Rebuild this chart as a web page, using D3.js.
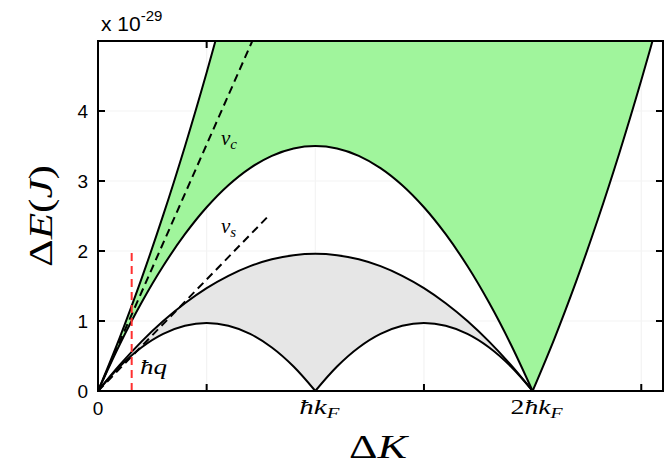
<!DOCTYPE html>
<html>
<head>
<meta charset="utf-8">
<script src="https://cdn.jsdelivr.net/npm/d3@7"></script>
<style>
  body { margin: 0; background: #fff; }
</style>
</head>
<body>
<svg id="chart" width="666" height="464"></svg>
<script>
// momentum in units of hbar*k_F, energy in units of 1e-29 J

// upper edge of the particle-hole (charge) continuum, left branch
var kUpper = [0, 0.1, 0.2, 0.3, 0.4, 0.5, 0.6];
var eUpper = [0, 0.764, 1.602, 2.512, 3.494, 4.55, 5.678];

// lower edge of the charge continuum (0 .. 2 k_F) and upper edge of the spin continuum
var kBand = [0, 0.1, 0.2, 0.3, 0.4, 0.5, 0.6, 0.7, 0.8, 0.9, 1.0,
             1.1, 1.2, 1.3, 1.4, 1.5, 1.6, 1.7, 1.8, 1.9, 2.0];
var eChargeLow = [0, 0.665, 1.26, 1.785, 2.24, 2.625, 2.94, 3.185, 3.36, 3.465, 3.5,
                  3.465, 3.36, 3.185, 2.94, 2.625, 2.24, 1.785, 1.26, 0.665, 0];
var eSpinUp = [0, 0.372, 0.706, 1.0, 1.254, 1.47, 1.646, 1.784, 1.882, 1.94, 1.96,
               1.94, 1.882, 1.784, 1.646, 1.47, 1.254, 1.0, 0.706, 0.372, 0];

// lower edge of the spin continuum, two arcs
var kArcA = [0, 0.1, 0.2, 0.3, 0.4, 0.5, 0.6, 0.7, 0.8, 0.9, 1.0];
var kArcB = [1.0, 1.1, 1.2, 1.3, 1.4, 1.5, 1.6, 1.7, 1.8, 1.9, 2.0];
var eArc = [0, 0.349, 0.621, 0.815, 0.931, 0.97, 0.931, 0.815, 0.621, 0.349, 0];

// lower edge of the charge continuum beyond 2 k_F
var kRight = [2.0, 2.1, 2.2, 2.3, 2.4, 2.5, 2.6];
var eRight = [0, 0.746, 1.562, 2.45, 3.408, 4.438, 5.538];

// straight guides
var vcK = [0, 0.71], vcE = [0, 5.0];
var vsK = [0, 0.778], vsE = [0, 2.48];
var qK = [0.155, 0.155], qE = [0, 2.0];

var xTicks = [0, 0.5, 1, 1.5, 2, 2.5];
var yTicks = [0, 1, 2, 3, 4];
var yTickLabels = ["0", "1", "2", "3", "4"];

var svg = d3.select("#chart");
var pLeft = 98, pRight = 663, pTop = 41, pBottom = 391;

var x = d3.scaleLinear().domain([0, 2.6]).range([pLeft, pRight]);
var y = d3.scaleLinear().domain([0, 5]).range([pBottom, pTop]);

function pts(ks, es) { return ks.map(function(k, i) { return [k, es[i]]; }); }

var line = d3.line()
  .x(function(d) { return x(d[0]); })
  .y(function(d) { return y(d[1]); })
  .curve(d3.curveCatmullRom);

// several pieces into one closed outline
function outline(parts) {
  return parts.map(function(p, i) {
    var s = line(p);
    return i ? "L" + s.slice(1) : s;
  }).join("") + "Z";
}

svg.append("defs").append("clipPath").attr("id", "plotclip")
  .append("rect")
  .attr("x", pLeft).attr("y", pTop)
  .attr("width", pRight - pLeft).attr("height", pBottom - pTop);

// grid (very faint)
var grid = svg.append("g").attr("stroke", "#f3f3f3").attr("stroke-width", 1.2);
grid.selectAll("line.gx").data(xTicks.slice(1)).enter().append("line")
  .attr("x1", function(d) { return x(d); }).attr("x2", function(d) { return x(d); })
  .attr("y1", pTop).attr("y2", pBottom);
grid.selectAll("line.gy").data(yTicks.slice(1)).enter().append("line")
  .attr("x1", pLeft).attr("x2", pRight)
  .attr("y1", function(d) { return y(d); }).attr("y2", function(d) { return y(d); });

// ticks sit under the patches
var ticks = svg.append("g").attr("stroke", "#000").attr("stroke-width", 2);
xTicks.slice(1).forEach(function(t) {
  ticks.append("line").attr("x1", x(t)).attr("x2", x(t)).attr("y1", pBottom).attr("y2", pBottom - 7);
  ticks.append("line").attr("x1", x(t)).attr("x2", x(t)).attr("y1", pTop).attr("y2", pTop + 7);
});
yTicks.slice(1).forEach(function(t) {
  ticks.append("line").attr("x1", pLeft).attr("x2", pLeft + 7).attr("y1", y(t)).attr("y2", y(t));
  ticks.append("line").attr("x1", pRight).attr("x2", pRight - 7).attr("y1", y(t)).attr("y2", y(t));
});

var plot = svg.append("g").attr("clip-path", "url(#plotclip)");

var upperPts = pts(kUpper, eUpper);
var chargeLowPts = pts(kBand, eChargeLow);
var spinUpPts = pts(kBand, eSpinUp);
var arcAPts = pts(kArcA, eArc);
var arcBPts = pts(kArcB, eArc);
var rightPts = pts(kRight, eRight);

// charge continuum
plot.append("path")
  .attr("d", outline([upperPts, rightPts.slice().reverse(), chargeLowPts.slice().reverse()]))
  .attr("fill", "#a0f59c").attr("stroke", "none");

// spin continuum
plot.append("path")
  .attr("d", outline([spinUpPts, arcBPts.slice().reverse(), arcAPts.slice().reverse()]))
  .attr("fill", "#e6e6e6").attr("stroke", "none");

[upperPts, chargeLowPts, rightPts, spinUpPts, arcAPts, arcBPts].forEach(function(p) {
  plot.append("path").attr("d", line(p))
    .attr("fill", "none").attr("stroke", "#000").attr("stroke-width", 2);
});

var straight = d3.line()
  .x(function(d) { return x(d[0]); })
  .y(function(d) { return y(d[1]); });

plot.append("path").attr("d", straight(pts(vcK, vcE)))
  .attr("fill", "none").attr("stroke", "#000").attr("stroke-width", 2)
  .attr("stroke-dasharray", "8,5");
plot.append("path").attr("d", straight(pts(vsK, vsE)))
  .attr("fill", "none").attr("stroke", "#000").attr("stroke-width", 2)
  .attr("stroke-dasharray", "8,5");
plot.append("path").attr("d", straight(pts(qK, qE)))
  .attr("fill", "none").attr("stroke", "#ff3030").attr("stroke-width", 2)
  .attr("stroke-dasharray", "8,5");

// box
svg.append("rect")
  .attr("x", pLeft).attr("y", pTop)
  .attr("width", pRight - pLeft).attr("height", pBottom - pTop)
  .attr("fill", "none").attr("stroke", "#000").attr("stroke-width", 2);

var sans = "'Liberation Sans', Arial, sans-serif";
var serif = "'Liberation Serif', 'Times New Roman', serif";

// y tick labels
svg.append("g")
  .attr("font-family", sans)
  .attr("font-size", 19).attr("text-anchor", "end")
  .selectAll("text").data(yTicks).enter().append("text")
  .attr("x", 88).attr("y", function(d) { return y(d) + 7; })
  .text(function(d, i) { return yTickLabels[i]; });

// x tick labels
svg.append("text")
  .attr("x", x(0)).attr("y", 415)
  .attr("font-family", sans)
  .attr("font-size", 19).attr("text-anchor", "middle")
  .text("0");

function kfLabel(cx, prefix, width) {
  var t = svg.append("text")
    .attr("x", cx).attr("y", 414)
    .attr("font-family", serif).attr("font-size", 21)
    .attr("text-anchor", "middle")
    .attr("textLength", width).attr("lengthAdjust", "spacingAndGlyphs");
  if (prefix) t.append("tspan").text(prefix);
  t.append("tspan").attr("font-style", "italic").text("ħk");
  t.append("tspan").attr("font-style", "italic").attr("font-size", 15).attr("dy", 4).text("F");
}
kfLabel(x(1) + 4, "", 40);
kfLabel(x(2) + 4, "2", 52);

// exponent
var ex = svg.append("text")
  .attr("x", 101).attr("y", 31)
  .attr("font-family", sans)
  .attr("font-size", 21);
ex.append("tspan").text("x 10");
ex.append("tspan").attr("font-size", 15).attr("dy", -10).text("-29");

// axis titles
var xt = svg.append("text")
  .attr("x", 349).attr("y", 458)
  .attr("font-family", serif).attr("font-size", 34)
  .attr("textLength", 58).attr("lengthAdjust", "spacingAndGlyphs");
xt.append("tspan").text("Δ");
xt.append("tspan").attr("font-style", "italic").text("K");

var yt = svg.append("text")
  .attr("transform", "translate(52,216) rotate(-90)")
  .attr("text-anchor", "middle")
  .attr("font-family", serif).attr("font-size", 34)
  .attr("textLength", 102).attr("lengthAdjust", "spacingAndGlyphs");
yt.append("tspan").text("Δ");
yt.append("tspan").attr("font-style", "italic").text("E");
yt.append("tspan").text("(");
yt.append("tspan").attr("font-style", "italic").text("J");
yt.append("tspan").text(")");

// curve labels
function subLabel(px, py, main, sub) {
  var t = svg.append("text")
    .attr("x", px).attr("y", py)
    .attr("font-family", serif).attr("font-size", 21).attr("font-style", "italic");
  t.append("tspan").text(main);
  t.append("tspan").attr("font-size", 15).attr("dy", 4).text(sub);
}
subLabel(221, 145, "v", "c");
subLabel(221, 233, "v", "s");

svg.append("text")
  .attr("x", 140).attr("y", 374)
  .attr("font-family", serif).attr("font-size", 22).attr("font-style", "italic")
  .attr("textLength", 27).attr("lengthAdjust", "spacingAndGlyphs")
  .text("ħq");
</script>
</body>
</html>
